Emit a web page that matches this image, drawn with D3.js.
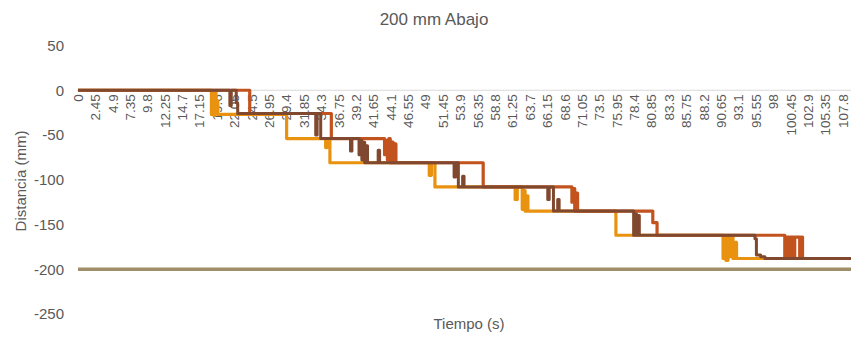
<!DOCTYPE html>
<html>
<head>
<meta charset="utf-8">
<script src="https://cdn.jsdelivr.net/npm/d3@7"></script>
<style>
  html, body { margin: 0; padding: 0; background: #fff; }
  svg { display: block; font-family: "Liberation Sans", Arial, sans-serif; }
</style>
</head>
<body>
<svg id="chart" width="851" height="337"></svg>
<script>
// Category labels along the time axis (s)
const timeLabels = ["0","2.45","4.9","7.35","9.8","12.25","14.7","17.15","19.6","22.05","24.5","26.95","29.4","31.85","34.3","36.75","39.2","41.65","44.1","46.55","49","51.45","53.9","56.35","58.8","61.25","63.7","66.15","68.6","71.05","73.5","75.95","78.4","80.85","83.3","85.75","88.2","90.65","93.1","95.55","98","100.45","102.9","105.35","107.8"];
const yTicks = [50, 0, -50, -100, -150, -200, -250];
const tEnd = 108.93;

// Each series: [time (s), distance (mm)] held until the next entry
const serieNaranja = [
  [0,0],
  [18.8,-27],[19.0,-3],[19.15,-28],[19.3,-1],[19.45,-26],[19.6,-12],[19.7,-27],
  [29.4,-54],
  [34.9,-64],[35.1,-54],[35.5,-81],
  [49.5,-95],[49.8,-81],[50.3,-108],
  [61.6,-122],[61.9,-108],[62.6,-133],[62.8,-112],[63.0,-135],[63.2,-118],[63.4,-135],
  [75.8,-162],
  [90.9,-188],[91.1,-165],[91.3,-190],[91.6,-163],[91.8,-186],[92.1,-164],[92.3,-188],[92.6,-170],[92.8,-188]
];
const serieCafe = [
  [0,0],
  [21.4,-17],[21.6,0],[22.3,-14],[22.5,-26],
  [33.5,-50],[33.7,-26],[34.2,-54],
  [38.4,-68],[38.6,-54],[39.6,-72],[39.8,-56],[40.0,-78],[40.2,-58],[40.4,-81],[40.6,-62],[40.8,-81],
  [42.3,-67],[42.5,-81],
  [53.0,-97],[53.2,-81],[53.6,-108],[54.2,-96],[54.4,-108],
  [66.2,-122],[66.4,-108],[67.0,-135],[67.6,-122],[67.8,-135],
  [78.3,-162],[78.5,-138],[78.7,-162],[78.9,-140],[79.1,-162],
  [95.4,-166],[95.6,-184],[96.2,-186],[96.8,-188]
];
const serieOxido = [
  [0,0],
  [24.2,-26],
  [35.7,-54],
  [43.2,-72],[43.4,-56],[43.6,-78],[43.8,-54],[44.0,-81],[44.2,-58],[44.4,-81],[44.6,-60],[44.8,-81],
  [57.1,-108],
  [69.6,-125],[69.8,-110],[70.0,-135],[70.2,-115],[70.4,-135],
  [81.0,-148],[81.6,-162],
  [99.6,-188],[99.8,-164],[100.2,-188],[100.4,-164],[100.8,-188],[101.0,-164],[101.7,-188],[101.9,-164],[102.1,-188]
];
const referencia = [[0,-200]];

const svg = d3.select("#chart");
const x = d3.scaleLinear().domain([0, tEnd]).range([78, 851]);
const y = d3.scaleLinear().domain([-250, 50]).range([314, 45.5]);
const textColor = "#595959";

// Title
svg.append("text").attr("x", 434).attr("y", 25).attr("text-anchor", "middle")
  .attr("font-size", 17).attr("fill", textColor).text("200 mm Abajo");

// Horizontal category axis line at 0
svg.append("line").attr("x1", 77).attr("x2", 851)
  .attr("y1", y(0)).attr("y2", y(0)).attr("stroke", "#d9d9d9").attr("stroke-width", 1);

// Y axis labels
const yAxis = d3.axisLeft(y).tickValues(yTicks).tickSize(0).tickPadding(0)
  .tickFormat(d => String(d));
const gy = svg.append("g").attr("transform", "translate(64,0)").call(yAxis);
gy.select(".domain").remove();
gy.selectAll("text").attr("font-size", 15).attr("fill", textColor)
  .attr("font-family", "Liberation Sans, Arial, sans-serif");

// Rotated time labels
svg.append("g").selectAll("text").data(timeLabels).join("text")
  .attr("transform", (d, i) => `translate(${x(i * 2.45)},${y(0) + 4}) rotate(-90)`)
  .attr("text-anchor", "end").attr("dy", "0.35em")
  .attr("font-size", 13.5).attr("fill", textColor).text(d => d);

// Axis titles
svg.append("text").attr("transform", "translate(26,181) rotate(-90)")
  .attr("text-anchor", "middle").attr("font-size", 15).attr("fill", textColor)
  .text("Distancia (mm)");
svg.append("text").attr("x", 469).attr("y", 329).attr("text-anchor", "middle")
  .attr("font-size", 15).attr("fill", textColor).text("Tiempo (s)");

// Step lines
const line = d3.line().x(d => x(d[0])).y(d => y(d[1])).curve(d3.curveStepAfter);
function withEnd(runs) {
  return runs.concat([[tEnd, runs[runs.length - 1][1]]]);
}
const series = [
  { data: referencia, color: "#9f8e68", width: 3.4 },
  { data: serieNaranja, color: "#e8920f", width: 3.2 },
  { data: serieOxido, color: "#c2531f", width: 3.2 },
  { data: serieCafe, color: "#80492f", width: 3 }
];
svg.append("g").selectAll("path").data(series).join("path")
  .attr("d", s => line(withEnd(s.data)))
  .attr("fill", "none").attr("stroke", s => s.color)
  .attr("stroke-width", s => s.width).attr("stroke-linejoin", "round");
</script>
</body>
</html>
